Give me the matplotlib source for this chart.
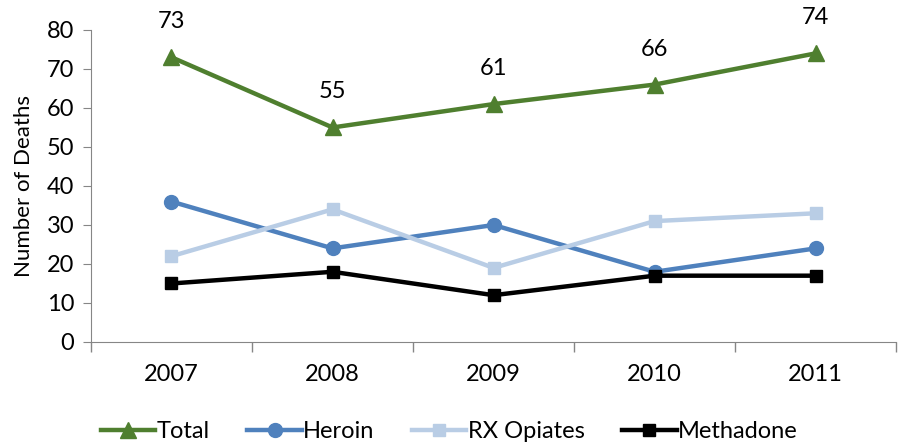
import numpy as np
import matplotlib.pyplot as plt

plt.rcParams['font.family'] = ['Lato', 'DejaVu Sans']

years = ['2007', '2008', '2009', '2010', '2011']
total = [73, 55, 61, 66, 74]
heroin = [36, 24, 30, 18, 24]
rx_opiates = [22, 34, 19, 31, 33]
methadone = [15, 18, 12, 17, 17]

fig = plt.figure(figsize=(8.98, 4.46), dpi=100)
ax = fig.add_axes([0.1013, 0.2332, 0.8967, 0.6996])

x = np.arange(len(years))
ax.plot(x, total, color='#4f7f2f', lw=3.2, marker='^', ms=12, label='Total')
ax.plot(x, heroin, color='#4f81bd', lw=3.2, marker='o', ms=10, label='Heroin')
ax.plot(x, rx_opiates, color='#b9cde5', lw=3.2, marker='s', ms=9, label='RX Opiates')
ax.plot(x, methadone, color='black', lw=3.2, marker='s', ms=9, label='Methadone')

for xi, v in zip(x, total):
    ax.annotate(str(v), (xi, v), xytext=(0, 18), textcoords='offset points',
                ha='center', va='bottom', fontsize=17)

ax.set_xlim(-0.5, 4.5)
ax.set_ylim(0, 80)
ax.set_yticks(range(0, 81, 10))
ax.set_xticks(x)
ax.set_xticklabels(years)
ax.set_xticks(np.arange(-0.5, 5, 1), minor=True)
ax.tick_params(axis='x', which='major', length=0, pad=16, labelsize=17)
ax.tick_params(axis='x', which='minor', length=7, color='#868686', width=1)
ax.tick_params(axis='y', length=6, pad=6, color='#868686', labelsize=17)
ax.set_ylabel('Number of Deaths', fontsize=16, labelpad=9)

for s in ['top', 'right']:
    ax.spines[s].set_visible(False)
for s in ['left', 'bottom']:
    ax.spines[s].set_color('#868686')

ax.legend(loc='lower center', bbox_to_anchor=(0.445, -0.39), ncol=4, frameon=False,
          fontsize=17, handlelength=2.3, handletextpad=0.05, columnspacing=1.6)

fig.savefig('out.png', dpi=100)
